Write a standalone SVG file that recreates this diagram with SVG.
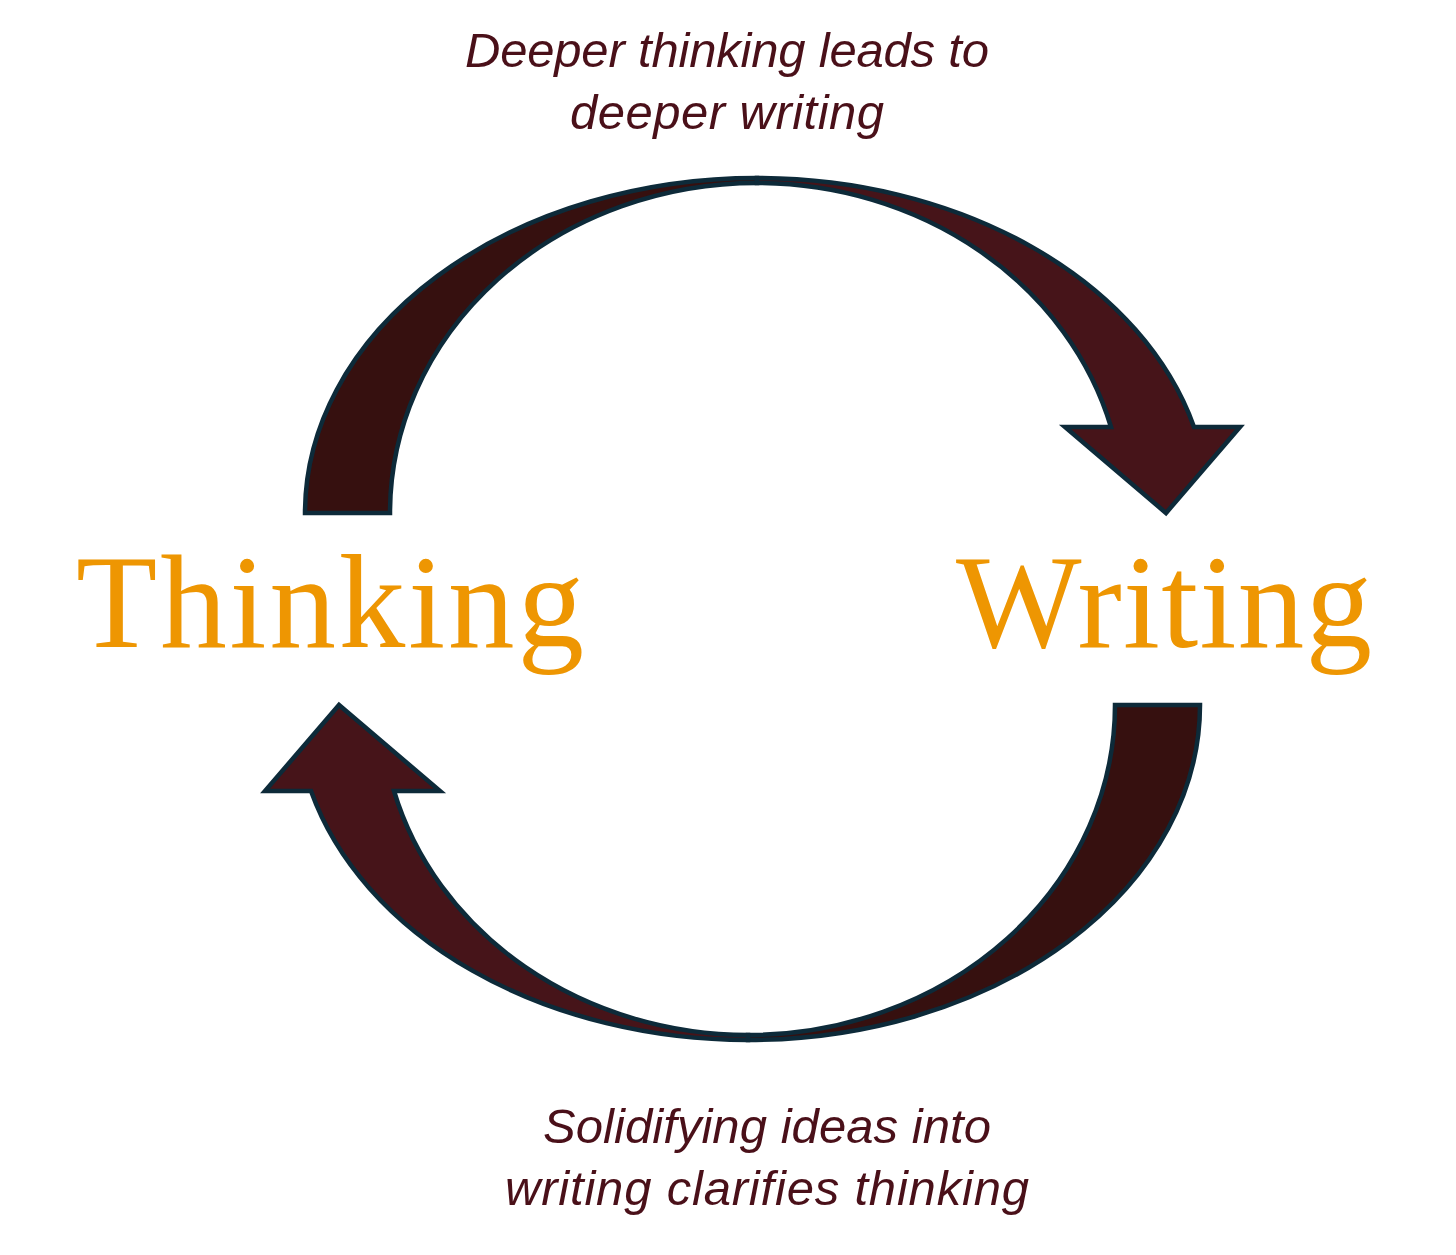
<svg xmlns="http://www.w3.org/2000/svg" width="1456" height="1255" viewBox="0 0 1456 1255">
  <style>
    .back { fill: #36100f; stroke: #0d2a39; stroke-width: 4.5; stroke-linejoin: miter; }
    .front { fill: #461419; stroke: #0d2a39; stroke-width: 4.5; stroke-linejoin: miter; }
    .node { font-family: "Liberation Serif", "Times New Roman", serif; font-size: 133px; fill: #ee9602; }
    .label { font-family: "Liberation Sans", Arial, sans-serif; font-style: italic; font-size: 49px; fill: #4a1019; text-anchor: middle; }
  </style>
  <rect width="1456" height="1255" fill="#ffffff"/>
  <g id="connectors">
    <g id="arrow-thinking-to-writing">
      <path class="back" d="M 305,513 A 452 335 0 0 1 757,178 L 757,183 A 367 330 0 0 0 390,513 Z"/>
      <path class="front" d="M 757,178 A 452 335 0 0 1 1194,427 L 1240,427 L 1166,513 L 1065,427 L 1111,427 A 367 330 0 0 0 757,183 Z"/>
    </g>
    <g id="arrow-writing-to-thinking">
      <path class="back" d="M 1200,705 A 452 335 0 0 1 748,1040 L 748,1035 A 367 330 0 0 0 1115,705 Z"/>
      <path class="front" d="M 748,1040 A 452 335 0 0 1 311,791 L 265,791 L 339,705 L 440,791 L 394,791 A 367 330 0 0 0 748,1035 Z"/>
    </g>
  </g>
  <g id="label-top">
    <text class="label" x="727" y="67" textLength="524">Deeper thinking leads to</text>
    <text class="label" x="727" y="129" textLength="314">deeper writing</text>
  </g>
  <g id="label-bottom">
    <text class="label" x="767" y="1143" textLength="448">Solidifying ideas into</text>
    <text class="label" x="767" y="1205" textLength="524">writing clarifies thinking</text>
  </g>
  <g id="node-thinking">
    <text class="node" x="76" y="647" textLength="508">Thinking</text>
  </g>
  <g id="node-writing">
    <text class="node" x="956" y="647" textLength="416">Writing</text>
  </g>
</svg>
